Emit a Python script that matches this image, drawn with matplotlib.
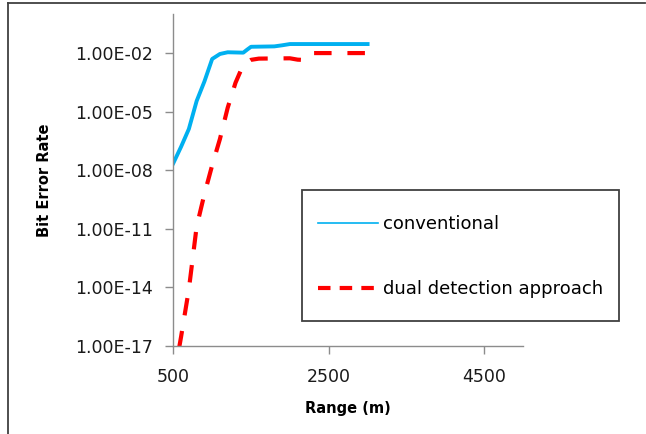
import matplotlib
matplotlib.use("Agg")
import matplotlib.pyplot as plt
from matplotlib.lines import Line2D
from matplotlib.patches import Rectangle
from matplotlib.ticker import FixedLocator, FuncFormatter, NullLocator

# values
range_conv = [500, 600, 700, 800, 900, 1000, 1100, 1200, 1400, 1450, 1500, 1800, 1900, 2000, 3000]
ber_conv = [2.3e-8, 1.6e-7, 1.3e-6, 3.5e-5, 3.5e-4, 5e-3, 9e-3, 1.1e-2, 1.05e-2, 1.5e-2, 2.1e-2,
            2.2e-2, 2.5e-2, 2.9e-2, 2.9e-2]

range_dual = [500, 600, 700, 800, 900, 1000, 1100, 1200, 1300, 1400, 1500, 1600, 2000,
              2100, 2200, 2300, 3000]
ber_dual = [1.6e-19, 3e-17, 8e-15, 1.3e-11, 6e-10, 1.8e-8, 4e-7, 1.6e-5, 3e-4, 2.5e-3,
            4.5e-3, 5.2e-3, 5.4e-3, 4.6e-3, 4.4e-3, 1e-2, 1e-2]

x_ticks = [500, 2500, 4500]
y_ticks = [1e-17, 1e-14, 1e-11, 1e-8, 1e-5, 1e-2]

blue = "#00B0F0"
red = "#FF0000"

plt.rcParams["font.family"] = "DejaVu Sans"

W, H = 646, 434
fig = plt.figure(figsize=(W / 100, H / 100), dpi=100)
ax = fig.add_axes([0.2683, 0.2028, 0.5413, 0.7649])

ax.plot(range_conv, ber_conv, color=blue, lw=2.8, solid_joinstyle="round")
ax.plot(range_dual, ber_dual, color=red, lw=3.0, dashes=(4.2, 3.8))

ax.set_yscale("log")
ax.set_xlim(500, 5000)
ax.set_ylim(1e-17, 1)
ax.xaxis.set_major_locator(FixedLocator(x_ticks))
ax.yaxis.set_major_locator(FixedLocator(y_ticks))
ax.yaxis.set_minor_locator(NullLocator())
ax.yaxis.set_major_formatter(FuncFormatter(lambda v, p: f"{v:.2E}"))

for s in ["top", "right"]:
    ax.spines[s].set_visible(False)
for s in ["left", "bottom"]:
    ax.spines[s].set_color("#8C8C8C")
    ax.spines[s].set_linewidth(1.0)
ax.tick_params(direction="out", length=6, width=1, color="#8C8C8C",
               labelsize=12.5, labelcolor="#1a1a1a")
ax.tick_params(axis="y", pad=8.5)
ax.tick_params(axis="x", pad=10)

ax.set_ylabel("Bit Error Rate", fontsize=10.5, fontweight="bold", labelpad=16.5)
ax.set_xlabel("Range (m)", fontsize=10.5, fontweight="bold", labelpad=11)

# legend: text without frame, box drawn separately
handles = [Line2D([], [], color=blue, lw=1.2),
           Line2D([], [], color=red, lw=3.0, dashes=(3.0, 2.2))]
leg = fig.legend(handles, ["conventional", "dual detection approach"],
                 loc="upper left", bbox_to_anchor=(318 / W, 1 - 215 / H),
                 fontsize=13, handlelength=3.3, handletextpad=0.28,
                 labelspacing=2.6, borderpad=0, borderaxespad=0,
                 frameon=False)
fig.add_artist(Rectangle((302 / W, 1 - 321 / H), 317 / W, 131 / H,
                         transform=fig.transFigure, fill=False,
                         edgecolor="#404040", lw=1.3))

# chart area border (top and left edges visible)
fig.add_artist(Line2D([8 / W, 0.998], [1 - 3 / H, 1 - 3 / H], color="#404040", lw=1.3))
fig.add_artist(Line2D([8 / W, 8 / W], [0, 1 - 3 / H], color="#404040", lw=1.3))

fig.savefig("out.png", dpi=100)
